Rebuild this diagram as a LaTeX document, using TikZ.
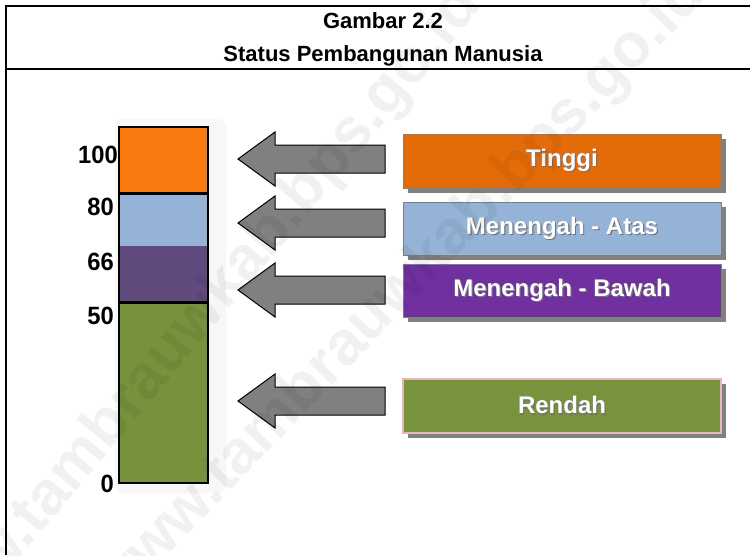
\documentclass[tikz,border=0pt]{standalone}
\usepackage{fontspec}
\setmainfont{Liberation Sans}
\usepackage{graphicx}
\usetikzlibrary{shadows}

% scale colours
\definecolor{barorange}{HTML}{F97A0E}
\definecolor{barblue}{HTML}{95B3D7}
\definecolor{barpurple}{HTML}{614A7E}
\definecolor{bargreen}{HTML}{76923C}
% legend box colours
\definecolor{boxorange}{HTML}{E36C09}
\definecolor{boxblue}{HTML}{95B3D7}
\definecolor{boxpurple}{HTML}{7030A0}
\definecolor{boxgreen}{HTML}{77933C}
\definecolor{arrowgray}{HTML}{808080}
\definecolor{boxedge}{HTML}{7F7F7F}
\definecolor{rosy}{HTML}{E6B9B8}

\newcommand\shadowtxt[1]{\makebox[0pt][l]{\hspace{1.2pt}\raisebox{-1.2pt}{\textcolor{black!55}{#1}}}\textcolor{white}{#1}}
\newcommand\numtxt[1]{\fontsize{25}{25}\selectfont\bfseries\scalebox{0.95}[1]{#1}}

\tikzset{
  frameline/.style={line width=2.5pt},
  titletext/.style={font=\fontsize{22}{22}\selectfont\bfseries, anchor=base, inner sep=0pt},
  scalelabel/.style={anchor=base east, inner sep=0pt},
  levelbox/.style={minimum width=318pt, minimum height=53pt, inner sep=0pt,
    draw=boxedge, line width=1pt,
    drop shadow={shadow xshift=5pt, shadow yshift=-5pt, fill=arrowgray, opacity=1},
    font=\fontsize{24}{24}\selectfont\bfseries},
  arrowbody/.style={fill=arrowgray, draw=black, line width=1pt, line join=miter},
  blockarrow/.pic={
    \path[arrowbody] (0,0) -- (37,-27) -- (37,-14) -- (147,-14) -- (147,14)
      -- (37,14) -- (37,27) -- cycle;
  },
  watermark/.style={font=\fontsize{62}{62}\selectfont\bfseries, text=black,
    text opacity=0.055, inner sep=0pt}
}

\begin{document}
\begin{tikzpicture}[x=1pt, y=-1pt]
\useasboundingbox (0,0) rectangle (750,555);

% frame and title rule
\draw[frameline] (6,555) -- (6,6) -- (750,6);
\draw[frameline] (6,69) -- (750,69);

\node[titletext] (t1) at (383,28) {Gambar 2.2};
\node[titletext] (t2) at (383,61) {Status Pembangunan Manusia};

% scale bar with its soft halo
\fill[gray!6, rounded corners=8pt] (115,119) rectangle (226,493);
\fill[barorange] (119,127) rectangle (208,193);
\fill[barblue]   (119,193) rectangle (208,246);
\fill[barpurple] (119,246) rectangle (208,302);
\fill[bargreen]  (119,302) rectangle (208,483);
\draw[line width=1.5pt] (119,127) rectangle (208,483);
\draw[line width=3pt] (119,193) -- (208,193);
\draw[line width=3pt] (119,302) -- (208,302);

% scale values
\node[scalelabel] (v100) at (118,163) {\numtxt{100}};
\node[scalelabel] (v80)  at (114,215) {\numtxt{80}};
\node[scalelabel] (v66)  at (114,270) {\numtxt{66}};
\node[scalelabel] (v50)  at (114,324) {\numtxt{50}};
\node[scalelabel] (v0)   at (114,492) {\numtxt{0}};

% pointer arrows
\coordinate (p1) at (238,159);
\coordinate (p2) at (238,223);
\coordinate (p3) at (238,290);
\coordinate (p4) at (238,401);
\pic at (p1) {blockarrow};
\pic at (p2) {blockarrow};
\pic at (p3) {blockarrow};
\pic at (p4) {blockarrow};

% level boxes
\node[levelbox, fill=boxorange, minimum height=54pt] (tinggi) at (562,161) {\shadowtxt{Tinggi}};
\node[levelbox, fill=boxblue] (atas) at (562,228.5) {\shadowtxt{Menengah - Atas}};
\node[levelbox, fill=boxpurple] (bawah) at (562,290.5) {\shadowtxt{Menengah - Bawah}};
\node[levelbox, fill=boxgreen, draw=rosy, line width=1.5pt, minimum height=54pt] (rendah) at (562,406) {\shadowtxt{Rendah}};

% faint diagonal watermark
\node[watermark, rotate=50] (wm1) at (197,322) {www.tambrauwkab.bps.go.id};
\node[watermark, rotate=46] (wm2) at (400,292) {www.tambrauwkab.bps.go.id};
\end{tikzpicture}
\end{document}
